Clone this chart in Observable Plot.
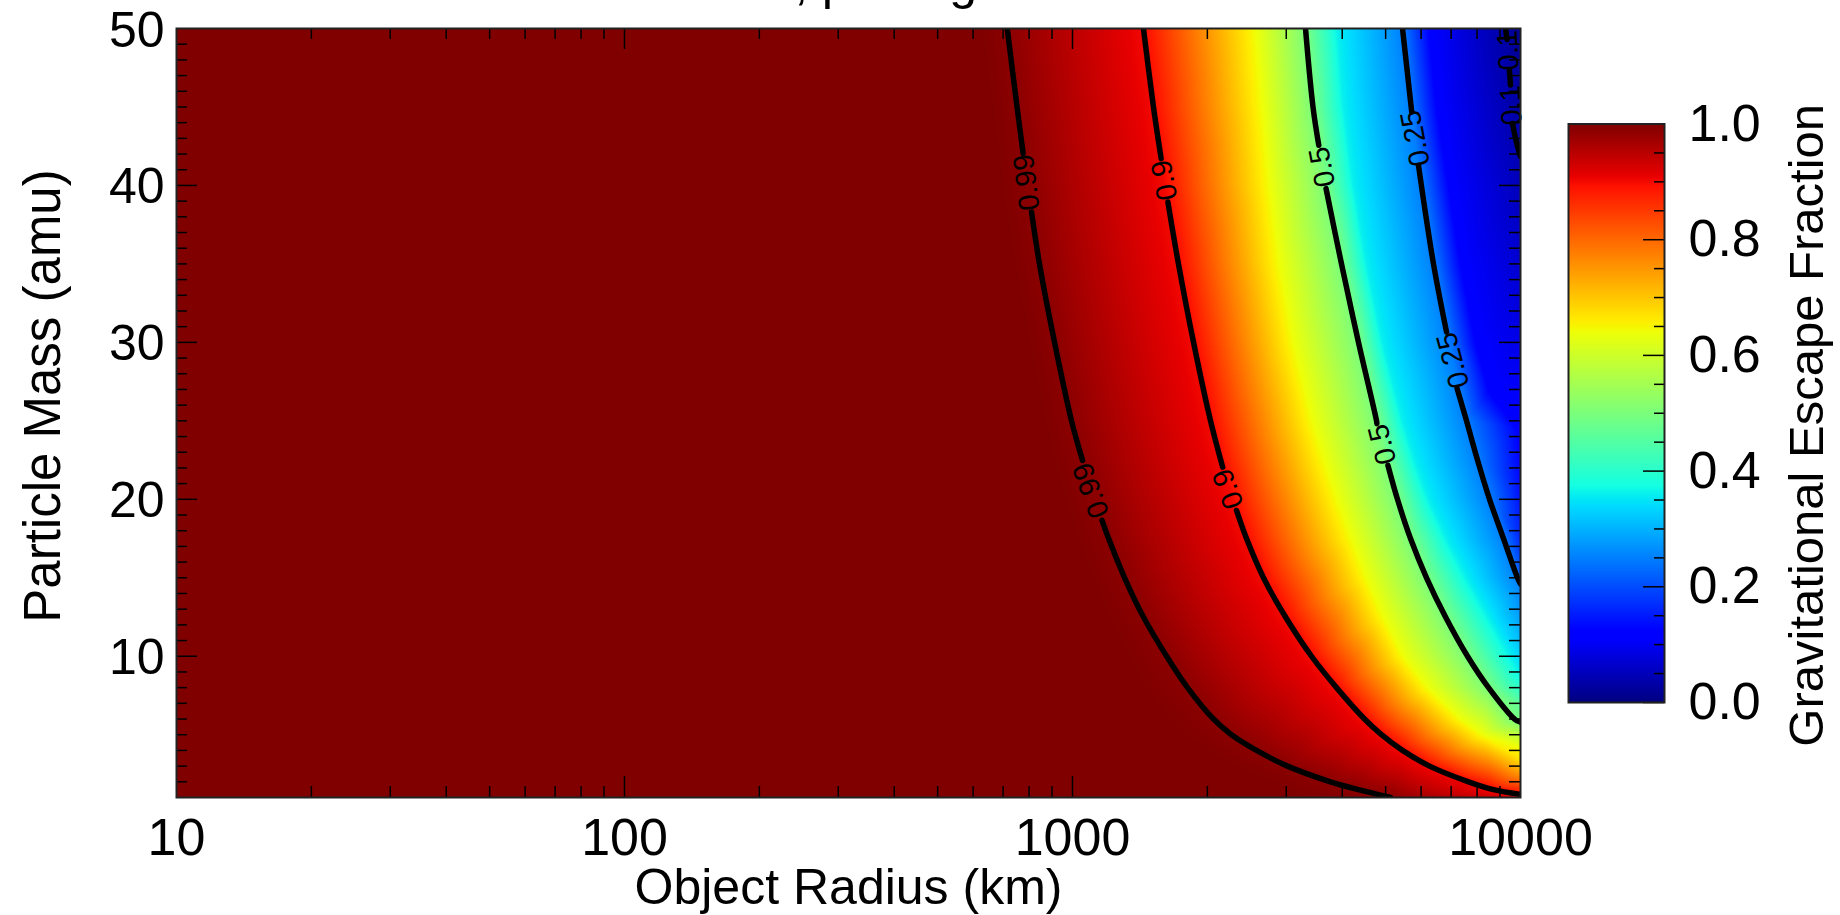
<!DOCTYPE html>
<html><head><meta charset="utf-8">
<script src="https://cdn.jsdelivr.net/npm/d3@7"></script>
<script src="https://cdn.jsdelivr.net/npm/@observablehq/plot@0.6"></script>
<style>
html,body{margin:0;padding:0;background:#fff;overflow:hidden}
#wrap{position:relative;width:1840px;height:915px;overflow:hidden;background:#fff}
#main{position:absolute;left:0;top:0}
#cbar{position:absolute;left:1500px;top:0}
#title{position:absolute;top:-43px;left:577px;font-family:"Liberation Sans",Arial,sans-serif;font-size:50px;line-height:50px;white-space:nowrap;color:#000;z-index:5}
svg{background:transparent !important}
</style></head><body>
<div id="wrap"><div id="main"></div><div id="cbar"></div><div id="title">T = 100 K, ρ = 1 g cm⁻³</div></div>
<script>
// ---------- axis ticks ----------
const xTickLabels = [10, 100, 1000, 10000];
const xMajorTicks = [100, 1000];
const xMinorTicks = [20,30,40,50,60,70,80,90,200,300,400,500,600,700,800,900,2000,3000,4000,5000,6000,7000,8000,9000];
const yTickLabels = [10, 20, 30, 40, 50];
const yMajorTicks = [10, 20, 30, 40];
const yMinorTicks = [2,3,4,5,6,7,8,9,11,12,13,14,15,16,17,18,19,21,22,23,24,25,26,27,28,29,31,32,33,34,35,36,37,38,39,41,42,43,44,45,46,47,48,49];
const cbTickLabels = [0, 0.2, 0.4, 0.6, 0.8, 1.0];
const cbMinorTicks = [0.05,0.1,0.15,0.25,0.3,0.35,0.45,0.5,0.55,0.65,0.7,0.75,0.85,0.9,0.95];

// ---------- escape-fraction field ----------
// iso-colour lines: [radius km, mass amu] where the image colour equals the level
const fillLevels = [1.0, 0.99, 0.9, 0.64, 0.5, 0.36, 0.25, 0.115];
const fill100 = [[10,1],[10,50],[623,50],[656,45],[691,40],[735,35],[794,30],[861,25],[898,22.5],[955,20],[1016,17.5],[1097,15],[1191,12.5],[1327,10],[1433,8],[1613,6],[1760,5],[1981,4],[2276,3],[2767,2],[2989,1.5],[3228,1]];
const fill099 = [[715,50],[752,45],[794,40],[844,35],[912,30],[995,25],[1053,22.5],[1120,20],[1204,17.5],[1307,15],[1440,12.5],[1622,10],[1806,8],[2064,6],[2264,5],[2575,4],[3019,3],[3766,2],[4349,1.5],[5126,1]];
const fill090 = [[1440,50],[1516,45],[1609,40],[1724,35],[1863,30],[2033,25],[2140,22.5],[2276,20],[2446,17.5],[2669,15],[2989,12.5],[3416,10],[3884,8],[4485,6],[4894,5],[5453,4],[6265,3],[7656,2],[8704,1.5],[10000,1.2]];
const fill064 = [[2562,50],[2656,45],[2753,40],[2898,35],[3114,30],[3433,25],[3652,22.5],[3904,20],[4196,17.5],[4532,15],[4945,12.5],[5481,10],[6201,8],[7347,6],[8227,5],[10000,4.2]];
const fill050 = [[3312,50],[3442,45],[3671,40],[3985,35],[4349,30],[4771,25],[5022,22.5],[5314,20],[5682,17.5],[6169,15],[6803,12.5],[7616,10],[8485,8],[9697,6],[10000,5.8]];
const fill036 = [[3904,50],[4027,45],[4239,40],[4532,35],[4920,30],[5453,25],[5800,22.5],[6232,20],[6838,17.5],[7577,15],[8485,12.5],[9499,10],[10000,8.9]];
const fill025 = [[5453,50],[5682,45],[5998,40],[6394,35],[6909,30],[7577,25],[8017,22.5],[8529,20],[9164,17.5],[9846,15],[10000,14.6]];
const fill0115 = [[6297,50],[6561,45],[6980,40],[7423,35],[8017,30],[8573,27],[10000,24.5]];
const fillLines = [fill100, fill099, fill090, fill064, fill050, fill036, fill025, fill0115];
// right edge (R = 10000 km) column of the image
const edgeMass  = [50, 45, 40, 35, 30, 27, 21, 17.4, 15.3, 13.1, 11, 7.8, 6.8, 5.06, 3.36, 2.5, 1.66, 1.0];
const edgeValue = [0.015,0.03,0.05,0.07,0.09,0.105,0.135,0.164,0.215,0.27,0.311,0.41,0.47,0.569,0.677,0.75,0.847,0.912];

// ---------- contour lines (segments between labels) ----------
const contour099 = [
  [[715,50],[752,45],[776,42.03]],
  [[810,38.31],[844,35],[912,30],[995,25],[1053,22.48]],
  [[1164,18.66],[1204,17.5],[1307,15],[1440,12.5],[1622,10],[1806,8],[2064,6],[2264,5],[2575,4],[3019,3],[3766,2],[4349,1.5],[5126,1]]
];
const contour090 = [
  [[1440,50],[1516,45],[1577,41.71]],
  [[1633,38.94],[1724,35],[1863,30],[2033,25],[2164,22.05]],
  [[2323,19.29],[2446,17.5],[2669,15],[2989,12.5],[3416,10],[3884,8],[4485,6],[4894,5],[5453,4],[6265,3],[7656,2],[8704,1.5],[10000,1.2]]
];
const contour050 = [
  [[3312,50],[3442,45],[3546,42.56]],
  [[3681,39.8],[3985,35],[4349,30],[4771,25],[4780,24.82]],
  [[5060,22.16],[5314,20],[5682,17.5],[6169,15],[6803,12.5],[7616,10],[8485,8],[9697,6],[10000,5.8]]
];
const contour025 = [
  [[5453,50],[5718,44.68]],
  [[5920,41.28],[6394,35],[6838,30.66]],
  [[7222,27.05],[7577,25],[8017,22.5],[8529,20],[9164,17.5],[9846,15],[10000,14.6]]
];
const contour010 = [
  [[9259,50],[9330,49.3]],
  [[9450,47.3],[9500,46.4]],
  [[9597,43.95],[9750,43.0],[9870,42.4],[10000,41.85]]
];
const contours = [contour099, contour090, contour050, contour025, contour010];
// labels: text, radius, mass, angle
const labelText  = ["0.99","0.99","0.9","0.9","0.5","0.5","0.25","0.25","0.1","0.1"];
const labelR     = [791, 1101, 1605, 2226, 3612, 4920, 5830, 7075, 9402, 9540];
const labelM     = [40.2, 20.57, 40.33, 20.67, 41.18, 23.5, 43.0, 28.85, 48.6, 45.1];
const labelAngle = [-97, -110, -101, -111, -101, -104, -101, -105, -93, -93];

// ---------- jet colour map ----------
function pw(t, pts) {
  for (let i = 1; i < pts.length; i++) {
    if (t <= pts[i][0]) { const [a, va] = pts[i-1], [b, vb] = pts[i]; return va + (vb - va) * (t - a) / (b - a); }
  }
  return pts[pts.length-1][1];
}
const jet = (t) => {
  t = Math.max(0, Math.min(1, t));
  const r = pw(t, [[0,0],[0.35,0],[0.66,1],[0.89,1],[1,0.5]]);
  const g = pw(t, [[0,0],[0.125,0],[0.375,1],[0.64,1],[0.91,0],[1,0]]);
  const b = pw(t, [[0,0.5],[0.11,1],[0.34,1],[0.65,0],[1,0]]);
  return `rgb(${Math.round(r*255)},${Math.round(g*255)},${Math.round(b*255)})`;
};

// ---------- build tables ----------
const fillData = [];
fillLevels.forEach((c, i) => fillLines[i].forEach(([R, m]) => fillData.push({R, m, c})));
edgeMass.forEach((m, i) => fillData.push({R: 10000, m, c: edgeValue[i]}));

const lineData = [];
contours.forEach((segs, ci) => segs.forEach((seg, si) => seg.forEach(([R, m]) => lineData.push({R, m, seg: ci + "-" + si}))));
const labels = labelText.map((t, i) => ({t, R: labelR[i], m: labelM[i], a: labelAngle[i]}));

const font = "Liberation Sans, Arial, Helvetica, sans-serif";
const W = 1840, H = 915, mL = 176, mR = 320, mT = 28, mB = 118;
const fW = W - mL - mR, fH = H - mT - mB;

const main = Plot.plot({
  width: W, height: H,
  marginLeft: mL, marginRight: mR, marginTop: mT, marginBottom: mB,
  style: {fontFamily: font, background: "transparent", color: "black"},
  x: {type: "log", domain: [10, 10000], axis: null},
  y: {domain: [1, 50], axis: null},
  color: {type: "linear", domain: [0, 1], interpolate: jet},
  marks: [
    Plot.raster(fillData, {x: "R", y: "m", fill: "c", interpolate: "barycentric"}),
    Plot.line(lineData, {x: "R", y: "m", z: "seg", stroke: "black", strokeWidth: 5.5, curve: "catmull-rom", clip: true}),
    Plot.text(labels, {x: "R", y: "m", text: "t", rotate: "a", fontSize: 29, fill: "black"}),
    // bottom ticks
    Plot.ruleX(xMajorTicks, {x: d => d, insetTop: fH - 21, stroke: "black", strokeWidth: 1.5}),
    Plot.ruleX(xMinorTicks, {x: d => d, insetTop: fH - 11, stroke: "black", strokeWidth: 1.5}),
    // top ticks
    Plot.ruleX(xMajorTicks, {x: d => d, insetBottom: fH - 21, stroke: "black", strokeWidth: 1.5}),
    Plot.ruleX(xMinorTicks, {x: d => d, insetBottom: fH - 11, stroke: "black", strokeWidth: 1.5}),
    // left ticks
    Plot.ruleY(yMajorTicks, {y: d => d, insetRight: fW - 21, stroke: "black", strokeWidth: 1.5}),
    Plot.ruleY(yMinorTicks, {y: d => d, insetRight: fW - 11, stroke: "black", strokeWidth: 1.5}),
    // right ticks
    Plot.ruleY(yMajorTicks, {y: d => d, insetLeft: fW - 21, stroke: "black", strokeWidth: 1.5}),
    Plot.ruleY(yMinorTicks, {y: d => d, insetLeft: fW - 11, stroke: "black", strokeWidth: 1.5}),
    Plot.frame({stroke: "#222", strokeWidth: 2}),
    Plot.axisX(xTickLabels, {anchor: "bottom", tickSize: 0, tickPadding: 21, fontSize: 52, tickFormat: d => String(d), label: null}),
    Plot.axisY(yTickLabels, {anchor: "left", tickSize: 0, tickPadding: 12, fontSize: 50, dy: 2, tickFormat: d => String(d), label: null}),
    Plot.text(["Object Radius (km)"], {frameAnchor: "bottom", textAnchor: "middle", lineAnchor: "bottom", dy: 106, fontSize: 50}),
    Plot.text(["Particle Mass (amu)"], {frameAnchor: "left", textAnchor: "middle", rotate: -90, dx: -133, dy: -17, fontSize: 51})
  ]
});
document.getElementById("main").appendChild(main);

const cW = 340, cmL = 68, cmR = 176, cmT = 123.5, cmB = 213;
const cfW = cW - cmL - cmR;
const cbar = Plot.plot({
  width: cW, height: H,
  marginLeft: cmL, marginRight: cmR, marginTop: cmT, marginBottom: cmB,
  style: {fontFamily: font, background: "transparent", color: "black", overflow: "visible"},
  x: {domain: [0, 1], axis: null},
  y: {domain: [0, 1], axis: null},
  color: {type: "linear", domain: [0, 1], interpolate: jet},
  marks: [
    Plot.raster({fill: (x, y) => y, x1: 0, x2: 1, y1: 0, y2: 1}),
    Plot.ruleY(cbTickLabels, {y: d => d, insetLeft: cfW - 21, stroke: "black", strokeWidth: 1.5}),
    Plot.ruleY(cbMinorTicks, {y: d => d, insetLeft: cfW - 10, stroke: "black", strokeWidth: 1.5}),
    Plot.frame({stroke: "#222", strokeWidth: 2}),
    Plot.axisY(cbTickLabels, {anchor: "right", tickSize: 0, tickPadding: 24, fontSize: 52, tickFormat: d3.format(".1f"), label: null}),
    Plot.text(["Gravitational Escape Fraction"], {frameAnchor: "right", textAnchor: "middle", rotate: -90, dx: 143, dy: 12, fontSize: 49})
  ]
});
document.getElementById("cbar").appendChild(cbar);
</script>
</body></html>
